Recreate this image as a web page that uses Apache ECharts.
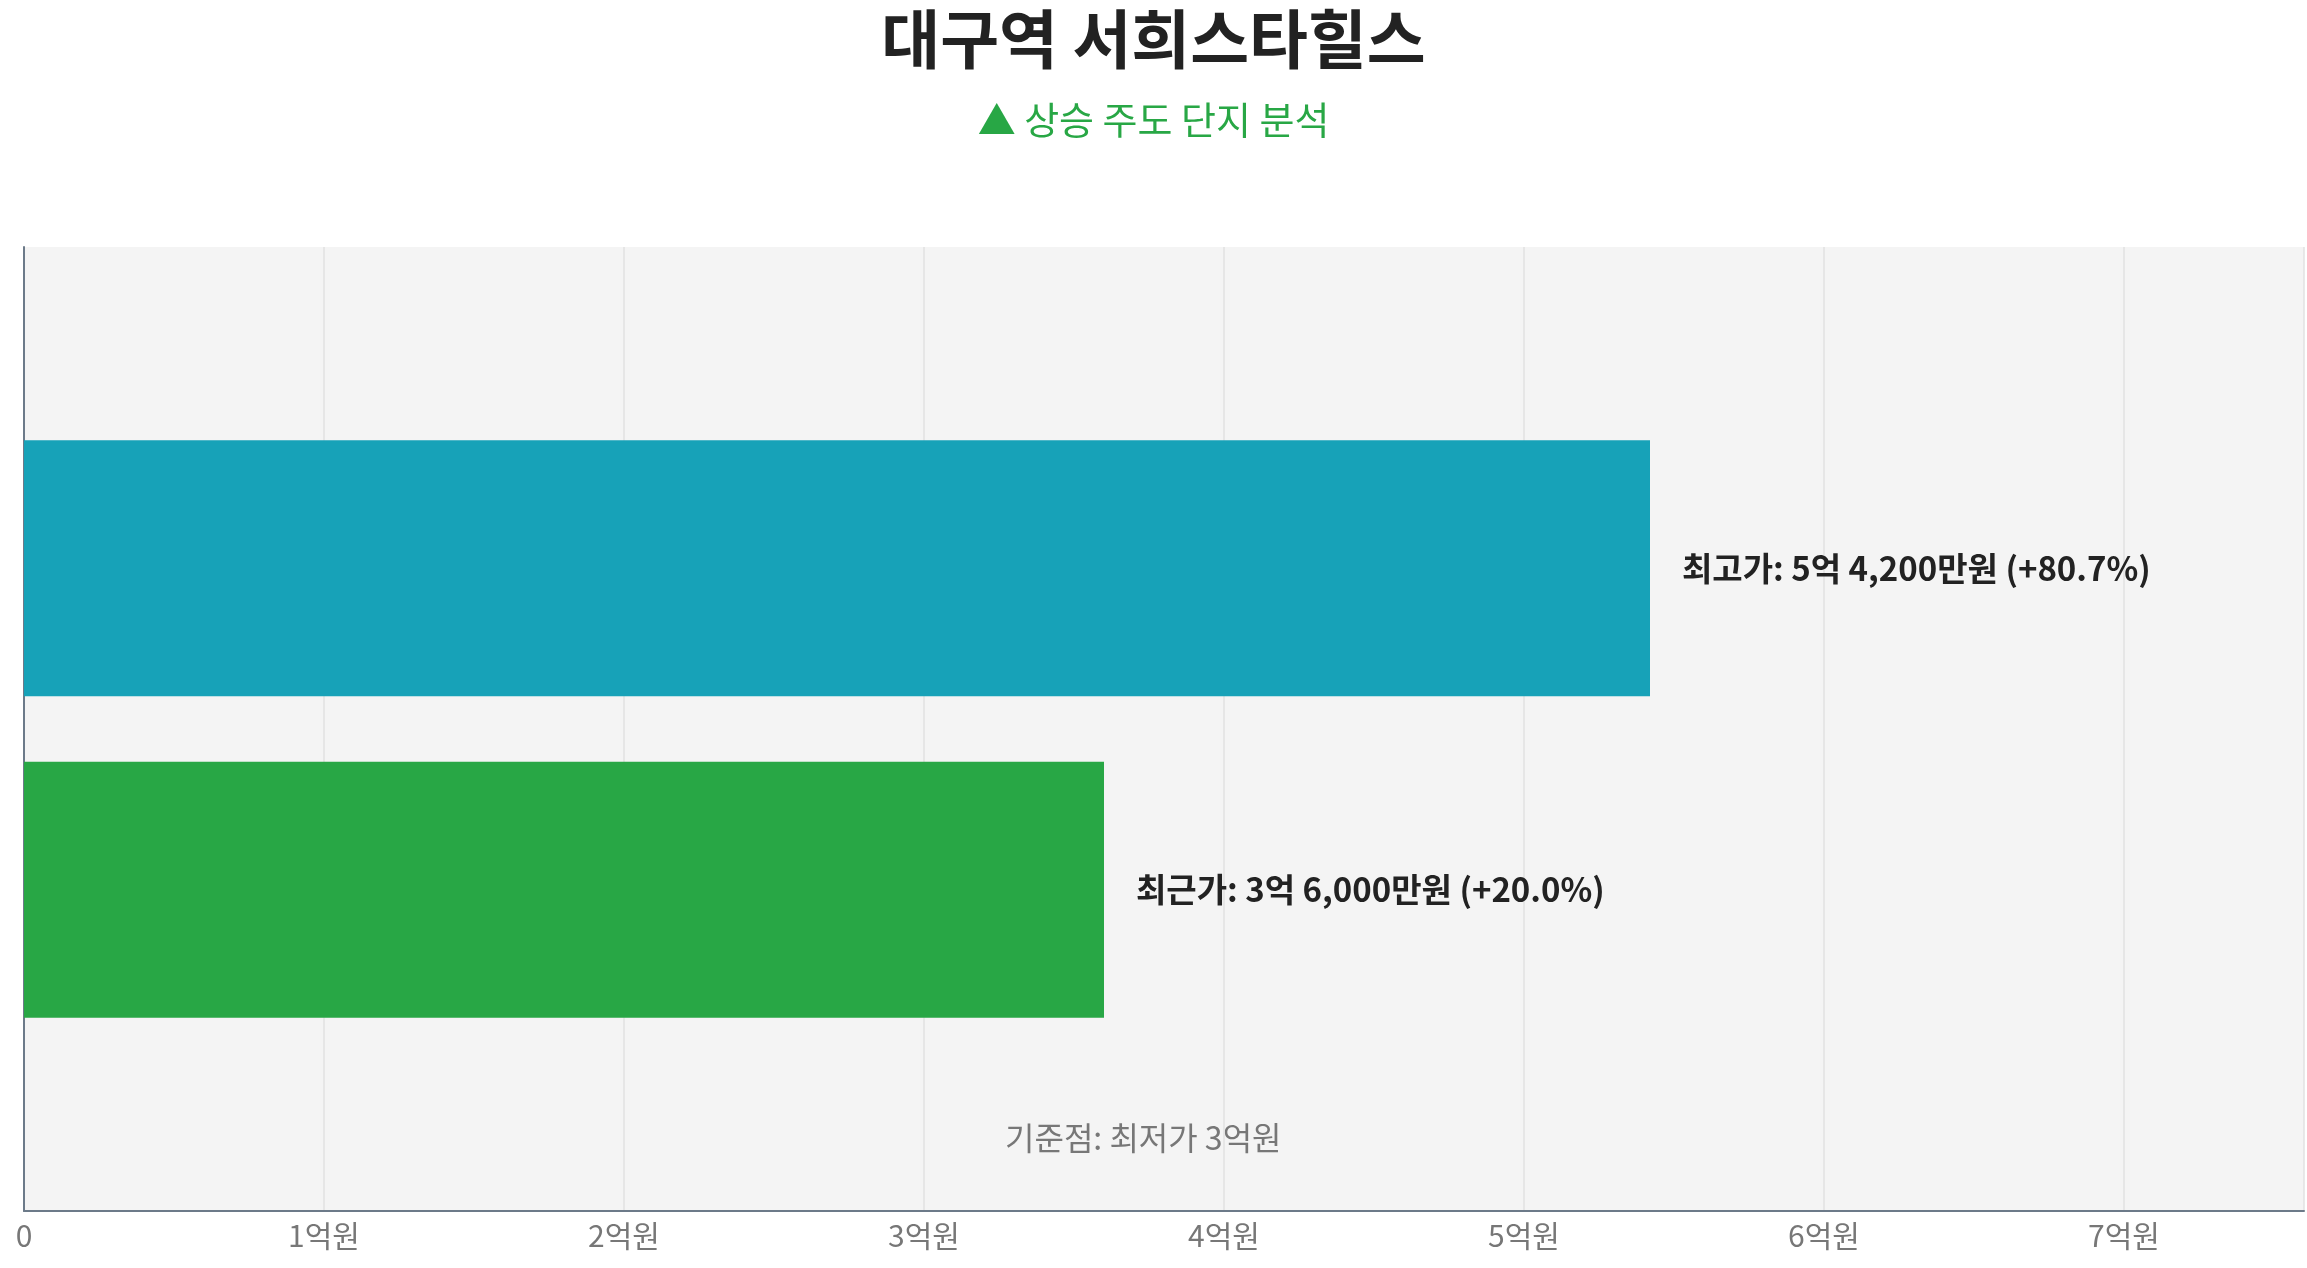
<!DOCTYPE html>
<html>
<head>
<meta charset="utf-8">
<script src="https://cdn.jsdelivr.net/npm/echarts@6/dist/echarts.min.js"></script>
<style>
html, body { margin: 0; padding: 0; background: #fff; }
#chart { width: 2307px; height: 1268px; }
</style>
</head>
<body>
<div id="chart"></div>
<script>
var categories = ['', '최근가', '최고가', ''];
var prices = [null, 3.6, 5.42, null];
var labels = ['', '최근가: 3억 6,000만원 (+20.0%)', '최고가: 5억 4,200만원 (+80.7%)', ''];
var barColors = ['#28a745', '#28a745', '#17a2b8', '#17a2b8'];
var tickLabels = ['0', '1억원', '2억원', '3억원', '4억원', '5억원', '6억원', '7억원'];

var font = '"Noto Sans CJK KR", "Noto Sans", sans-serif';
var chart = echarts.init(document.getElementById('chart'));

var option = {
    textStyle: { fontFamily: font },
    title: {
        text: '대구역 서희스타힐스',
        subtext: '▲ 상승 주도 단지 분석',
        left: 'center',
        top: 2,
        itemGap: 30,
        textStyle: { fontSize: 64, fontWeight: 'bold', color: '#222', fontFamily: font },
        subtextStyle: { fontSize: 38, color: '#28a745', fontFamily: font }
    },
    grid: {
        left: 24, right: 3, top: 247, bottom: 57,
        show: true, backgroundColor: '#f4f4f4', borderWidth: 0
    },
    xAxis: {
        type: 'value',
        min: 0, max: 7.6, interval: 1,
        axisLine: { show: true, lineStyle: { color: '#6c7a89', width: 2 } },
        axisTick: { show: false },
        splitLine: { show: true, lineStyle: { color: '#e2e2e2', width: 1.5 } },
        axisLabel: {
            fontSize: 30, color: '#777', margin: 10,
            formatter: function (v) { return tickLabels[v] !== undefined ? tickLabels[v] : ''; }
        }
    },
    yAxis: {
        type: 'category',
        data: categories,
        boundaryGap: false,
        axisLine: { show: true, lineStyle: { color: '#6c7a89', width: 2 } },
        axisTick: { show: false },
        axisLabel: { show: false }
    },
    series: [{
        type: 'bar',
        barWidth: 256,
        data: prices.map(function (v, i) {
            return { value: v, itemStyle: { color: barColors[i] } };
        }),
        label: {
            show: true,
            position: 'right',
            distance: 32,
            fontSize: 33,
            fontWeight: 'bold',
            color: '#222',
            formatter: function (p) { return labels[p.dataIndex]; }
        }
    }],
    graphic: [{
        type: 'text',
        left: 1005,
        top: 1122,
        style: { text: '기준점: 최저가 3억원', fontSize: 32, fill: '#777', fontFamily: font }
    }]
};

chart.setOption(option);
</script>
</body>
</html>
